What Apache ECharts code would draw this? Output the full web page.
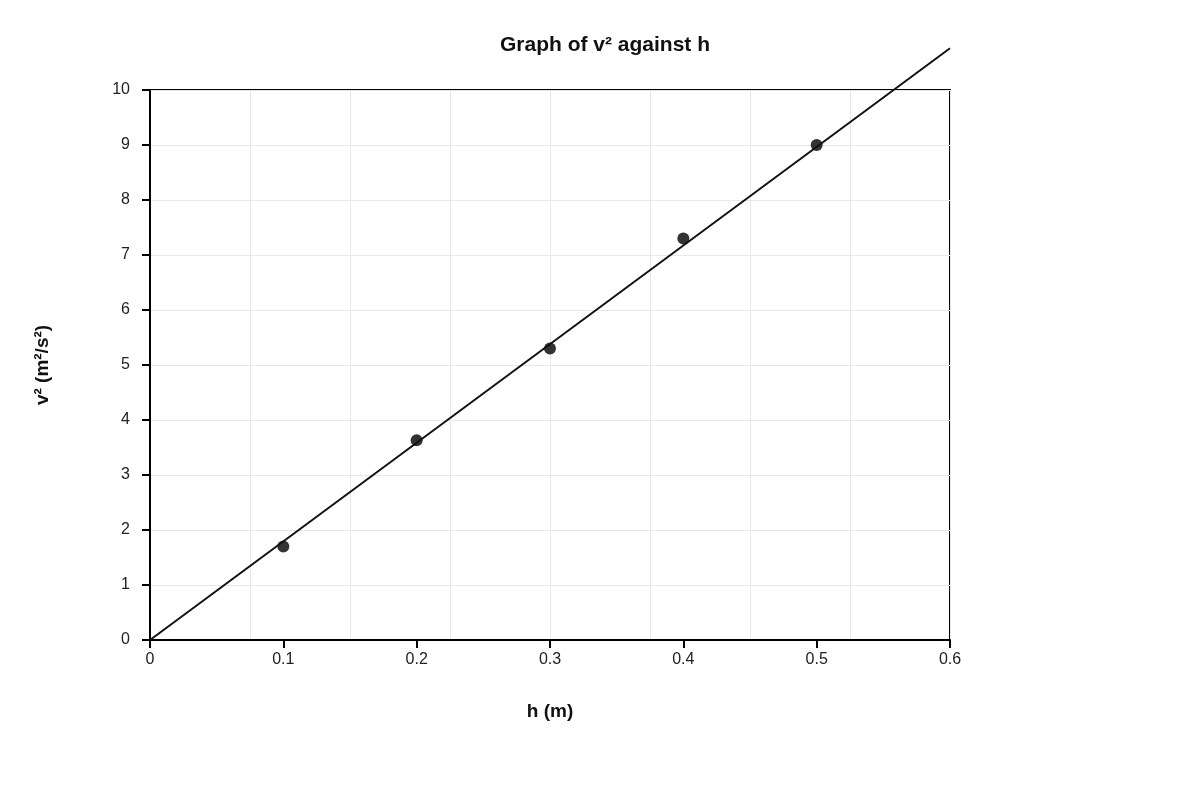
<!DOCTYPE html>
<html><head><meta charset="utf-8">
<script src="https://cdn.jsdelivr.net/npm/echarts@6/dist/echarts.min.js"></script>
<style>html,body{margin:0;padding:0;background:#fff}#c{width:1200px;height:800px}</style>
</head><body><div id="c"></div>
<script>
const hValues = [0.1, 0.2, 0.3, 0.4, 0.5];
const v2Values = [1.7, 3.63, 5.3, 7.3, 9.0];
const fitLine = [[0, 0], [0.6, 10.76]];
const chart = echarts.init(document.getElementById('c'));
const font = 'Liberation Sans, Arial, sans-serif';
chart.setOption({
  animation: false,
  title: {text: 'Graph of v² against h', left: 600, top: 30, textAlign: 'center',
    textStyle: {fontFamily: font, fontSize: 21, fontWeight: 'bold', color: '#111'}},
  grid: {left: 150, right: 250, top: 90, bottom: 160, show: true, borderColor: '#000', borderWidth: 2, backgroundColor: 'transparent'},
  xAxis: [{
    type: 'value', min: 0, max: 0.6, interval: 0.1, name: 'h (m)', nameLocation: 'middle', nameGap: 62,
    nameTextStyle: {fontFamily: font, fontSize: 19, fontWeight: 'bold', color: '#111'},
    axisLine: {lineStyle: {color: '#000', width: 2}}, axisTick: {show: true, length: 8, lineStyle: {color: '#000', width: 2}},
    axisLabel: {fontFamily: font, fontSize: 16, color: '#222', margin: 12}, splitLine: {show: false}
  }, {
    type: 'value', min: 0, max: 0.6, interval: 0.075, position: 'bottom', show: true,
    axisLine: {show: false}, axisTick: {show: false}, axisLabel: {show: false},
    splitLine: {show: true, lineStyle: {color: '#e8e8e8', width: 1}}
  }],
  yAxis: {
    type: 'value', min: 0, max: 10, interval: 1, name: 'v² (m²/s²)', nameLocation: 'middle', nameGap: 98, nameRotate: 90,
    nameTextStyle: {fontFamily: font, fontSize: 19, fontWeight: 'bold', color: '#111'},
    axisLine: {show: true, lineStyle: {color: '#000', width: 2}}, axisTick: {show: true, length: 8, lineStyle: {color: '#000', width: 2}},
    axisLabel: {fontFamily: font, fontSize: 16, color: '#222', margin: 20},
    splitLine: {show: true, lineStyle: {color: '#e8e8e8', width: 1}}
  },
  series: [{
    type: 'line', data: fitLine, clip: false, showSymbol: false, symbol: 'none',
    lineStyle: {color: '#111', width: 2}
  }, {
    type: 'scatter', data: hValues.map((h, i) => [h, v2Values[i]]), symbolSize: 12,
    itemStyle: {color: '#000'}
  }]
});
</script></body></html>
